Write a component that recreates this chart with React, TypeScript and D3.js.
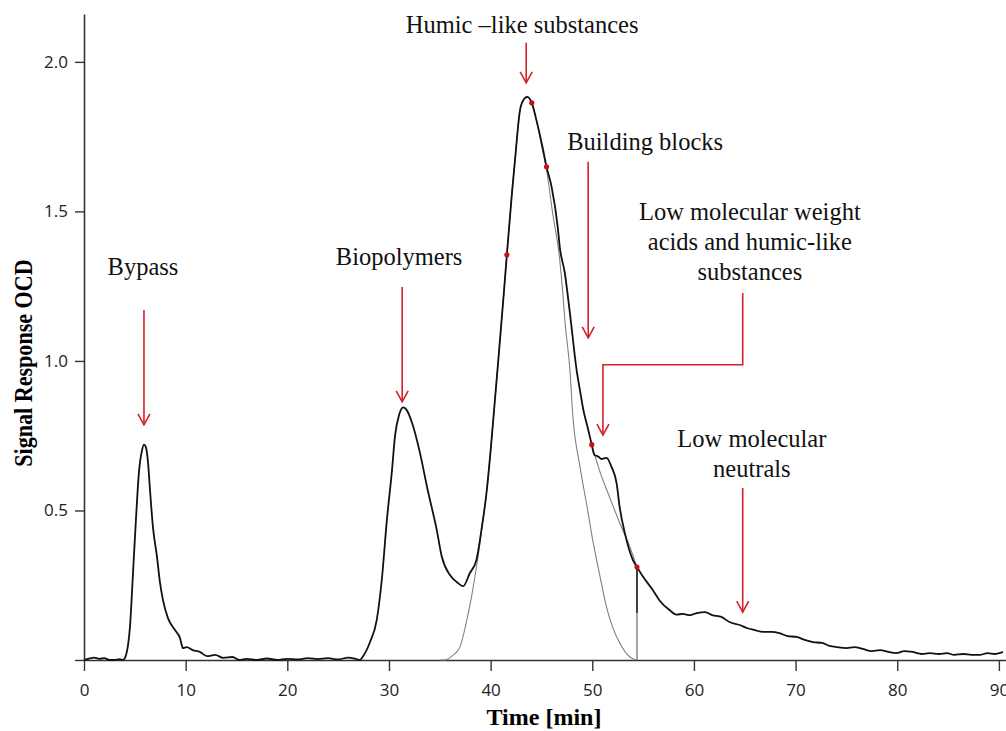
import React, { useEffect, useRef } from "react"
import * as d3 from "d3"

// Total OCD signal, [time (min), response]
const totalSignal: [number, number][] = [
	[0, 0], [0.5, 0.005], [1.0, 0.008], [1.5, 0.004], [2.0, 0.006], [2.5, 0], [3.0, 0], [3.5, 0.003],
	[3.83, 0], [4.03, 0.007], [4.52, 0.11], [4.82, 0.29], [5.11, 0.47], [5.41, 0.63], [5.7, 0.7],
	[5.9, 0.72], [6.1, 0.71], [6.3, 0.66], [6.49, 0.57], [6.78, 0.445], [7.18, 0.345], [7.47, 0.26],
	[7.77, 0.2], [8.26, 0.14], [8.95, 0.1], [9.44, 0.074], [9.73, 0.04], [10.1, 0.043], [10.7, 0.033],
	[11.4, 0.027], [12.1, 0.013], [12.9, 0.017], [13.7, 0.007], [14.6, 0.01], [15.3, 0], [16, 0.004],
	[17, 0], [18, 0.005], [19, 0], [20, 0.004], [21, 0.002], [22, 0.006], [23, 0.003], [24, 0.006],
	[25, 0.002], [26, 0.008], [26.8, 0.003], [27.14, 0], [27.4, 0.01], [28.1, 0.057], [28.8, 0.134],
	[29.3, 0.27], [29.8, 0.47], [30.3, 0.635], [30.6, 0.75], [31.0, 0.82], [31.4, 0.845], [31.7, 0.838],
	[32.3, 0.79], [33.0, 0.7], [33.8, 0.57], [34.7, 0.435], [35.2, 0.345], [36.0, 0.284], [36.7, 0.26],
	[37.3, 0.247], [37.95, 0.29], [38.6, 0.334], [39.1, 0.435], [39.6, 0.56], [40.0, 0.7],
	[40.4, 0.86], [40.8, 1.02], [41.3, 1.227], [41.6, 1.355], [42.1, 1.562], [42.4, 1.672],
	[42.9, 1.84], [43.3, 1.876], [43.6, 1.883], [44.05, 1.863], [44.5, 1.806], [45.1, 1.716],
	[45.5, 1.649], [46.0, 1.582], [46.6, 1.448], [46.8, 1.381], [47.3, 1.294], [47.8, 1.16],
	[48.5, 0.96], [48.8, 0.9], [49.1, 0.84], [49.6, 0.77], [49.95, 0.72], [50.2, 0.686], [50.6, 0.68],
	[50.9, 0.672], [51.4, 0.676], [51.9, 0.645], [52.4, 0.59], [52.7, 0.51], [53.2, 0.425],
	[54.0, 0.334], [54.4, 0.311], [55.0, 0.278], [55.95, 0.234], [56.6, 0.2], [57.6, 0.167],
	[58.3, 0.152], [58.9, 0.154], [59.6, 0.15], [60.3, 0.157], [61.1, 0.16], [61.8, 0.15],
	[62.7, 0.144], [63.5, 0.127], [64.5, 0.117], [65.2, 0.107], [65.98, 0.1], [66.8, 0.094],
	[67.65, 0.094], [68.4, 0.09], [69.2, 0.08], [70.1, 0.077], [70.9, 0.067], [71.7, 0.06],
	[72.6, 0.057], [73.35, 0.047], [74.1, 0.043], [75.0, 0.04], [75.8, 0.043], [76.6, 0.037],
	[77.5, 0.03], [78.3, 0.033], [79.15, 0.027], [79.9, 0.023], [80.7, 0.03], [81.5, 0.027],
	[82.4, 0.02], [83.2, 0.023], [84.1, 0.02], [84.9, 0.023], [85.6, 0.017], [86.5, 0.02],
	[87.3, 0.017], [88.1, 0.017], [88.9, 0.023], [89.6, 0.02], [90.4, 0.027],
]

// Fitted humic substances peak
const humicFit: [number, number][] = [
	[35.0, 0], [35.5, 0], [36.2, 0.013], [36.97, 0.043], [37.76, 0.15], [38.15, 0.217], [38.6, 0.31],
	[38.9, 0.378], [39.2, 0.46], [39.6, 0.56], [40.0, 0.7], [40.4, 0.86], [40.8, 1.02], [41.3, 1.227],
	[41.6, 1.355], [42.1, 1.562], [42.4, 1.672], [42.9, 1.84], [43.3, 1.876], [43.6, 1.883],
	[44.05, 1.863], [44.5, 1.806], [45.1, 1.706], [45.5, 1.64], [46.1, 1.495], [46.8, 1.338],
	[47.1, 1.227], [47.3, 1.137], [47.8, 0.97], [48.08, 0.82], [48.8, 0.645], [49.5, 0.51],
	[50.05, 0.4], [50.7, 0.29], [51.4, 0.177], [52.0, 0.11], [52.7, 0.057], [53.7, 0.01], [54.4, 0],
]

// Fitted low molecular weight acids peak (upper edge)
const lmwFit: [number, number][] = [
	[49.95, 0.72], [50.7, 0.635], [51.7, 0.545], [52.7, 0.458], [53.7, 0.378], [54.4, 0.311],
]

// Integration cut at the end of the LMW acids fraction
const cutTime = 54.4
const cutTop = 0.311
const cutBlackEnd = 0.157

const markers: [number, number][] = [
	[41.6, 1.355], [44.05, 1.863], [45.5, 1.649], [49.95, 0.72], [54.4, 0.311],
]

const xTicks = [0, 10, 20, 30, 40, 50, 60, 70, 80, 90]
const yTicks = [0, 0.5, 1.0, 1.5, 2.0]

// Labels: text lines, text anchor (time, signal), arrow path in (time, signal)
const labels = [
	{ lines: ["Bypass"], at: [5.8, 1.288], arrow: [[5.9, 1.17], [5.9, 0.786]] },
	{ lines: ["Biopolymers"], at: [31.0, 1.321], arrow: [[31.3, 1.247], [31.3, 0.863]] },
	{ lines: ["Humic \u2013like substances"], at: [43.1, 2.097], arrow: [[43.5, 2.064], [43.5, 1.93]] },
	{ lines: ["Building blocks"], at: [55.2, 1.706], arrow: [[49.6, 1.666], [49.6, 1.077]] },
	{
		lines: ["Low molecular weight", "acids and humic-like", "substances"],
		at: [65.5, 1.472],
		arrow: [[64.8, 1.227], [64.8, 0.987], [51.05, 0.987], [51.05, 0.752]],
	},
	{ lines: ["Low molecular", "neutrals"], at: [65.7, 0.712], arrow: [[64.8, 0.575], [64.8, 0.16]] },
]

const App = () => {
	const ref = useRef<SVGSVGElement>(null)

	useEffect(() => {
		const width = 1006
		const height = 731
		const red = "#d3222a"
		const serif = "'Liberation Serif', 'Times New Roman', serif"
		const sans = "'Open Sans', sans-serif"

		const x = d3.scaleLinear().domain([0, 90.7]).range([84, 1006])
		const y = d3.scaleLinear().domain([0, 2.16]).range([660, 14])

		const svg = d3
			.select(ref.current)
			.attr("width", width)
			.attr("height", height)
			.attr("viewBox", [0, 0, width, height].join(" "))

		svg.selectAll("*").remove()

		svg.append("rect").attr("width", width).attr("height", height).attr("fill", "#fff")

		// Axes
		const xAxis = d3
			.axisBottom(x)
			.tickValues(xTicks)
			.tickSize(11)
			.tickSizeOuter(0)
			.tickPadding(13)
			.tickFormat(d => String(d))

		svg
			.append("g")
			.attr("transform", `translate(0, ${y(0)})`)
			.call(xAxis)
			.call(g => g.select(".domain").attr("stroke", "#333").attr("stroke-width", 1.6))
			.call(g => g.selectAll(".tick line").attr("stroke", "#333").attr("stroke-width", 1.4))
			.call(g =>
				g.selectAll("text").attr("fill", "#222").style("font-family", sans).style("font-size", "17px"),
			)

		const yAxis = d3
			.axisLeft(y)
			.tickValues(yTicks)
			.tickSize(9)
			.tickSizeOuter(0)
			.tickPadding(7)
			.tickFormat(d => (d === 0 ? "" : d3.format(".1f")(d as number)))

		svg
			.append("g")
			.attr("transform", `translate(${x(0)}, 0)`)
			.call(yAxis)
			.call(g => g.select(".domain").attr("stroke", "#333").attr("stroke-width", 1.6))
			.call(g => g.selectAll(".tick line").attr("stroke", "#333").attr("stroke-width", 1.4))
			.call(g =>
				g.selectAll("text").attr("fill", "#222").style("font-family", sans).style("font-size", "17px"),
			)

		// Axis titles
		svg
			.append("text")
			.attr("x", 544)
			.attr("y", 725)
			.attr("text-anchor", "middle")
			.style("font-family", serif)
			.style("font-weight", "bold")
			.style("font-size", "24px")
			.attr("fill", "#000")
			.text("Time [min]")

		svg
			.append("text")
			.attr("transform", "translate(32, 363) rotate(-90) scale(0.85, 1)")
			.attr("text-anchor", "middle")
			.style("font-family", serif)
			.style("font-weight", "bold")
			.style("font-size", "26px")
			.attr("fill", "#000")
			.text("Signal Response OCD")

		const line = d3
			.line<[number, number]>()
			.x(d => x(d[0]))
			.y(d => y(d[1]))
			.curve(d3.curveMonotoneX)

		// Fitted fractions (thin grey)
		svg
			.append("path")
			.datum(humicFit)
			.attr("fill", "none")
			.attr("stroke", "#808080")
			.attr("stroke-width", 1.1)
			.attr("d", line)

		svg
			.append("path")
			.datum(lmwFit)
			.attr("fill", "none")
			.attr("stroke", "#808080")
			.attr("stroke-width", 1.1)
			.attr("d", line)

		svg
			.append("line")
			.attr("x1", x(cutTime))
			.attr("x2", x(cutTime))
			.attr("y1", y(cutBlackEnd))
			.attr("y2", y(0))
			.attr("stroke", "#808080")
			.attr("stroke-width", 1.4)

		svg
			.append("line")
			.attr("x1", x(cutTime))
			.attr("x2", x(cutTime))
			.attr("y1", y(cutTop))
			.attr("y2", y(cutBlackEnd))
			.attr("stroke", "#111")
			.attr("stroke-width", 1.6)

		// Total signal
		svg
			.append("path")
			.datum(totalSignal)
			.attr("fill", "none")
			.attr("stroke", "#111")
			.attr("stroke-width", 1.8)
			.attr("stroke-linejoin", "round")
			.attr("d", line)

		// Integration markers
		svg
			.selectAll("circle.marker")
			.data(markers)
			.enter()
			.append("circle")
			.attr("class", "marker")
			.attr("cx", d => x(d[0]))
			.attr("cy", d => y(d[1]))
			.attr("r", 2.6)
			.attr("fill", "#c8101a")

		// Labels with arrows
		const arrowLine = d3
			.line<number[]>()
			.x(d => x(d[0]))
			.y(d => y(d[1]))

		labels.forEach(lab => {
			const t = svg
				.append("text")
				.attr("text-anchor", "middle")
				.style("font-family", serif)
				.style("font-size", "24.5px")
				.attr("fill", "#111")
			lab.lines.forEach((s, i) => {
				t.append("tspan")
					.attr("x", x(lab.at[0]))
					.attr("y", y(lab.at[1]) + i * 30)
					.text(s)
			})

			svg
				.append("path")
				.attr("d", arrowLine(lab.arrow))
				.attr("fill", "none")
				.attr("stroke", red)
				.attr("stroke-width", 1.6)

			const tip = lab.arrow[lab.arrow.length - 1]
			const tx = x(tip[0])
			const ty = y(tip[1])
			svg
				.append("path")
				.attr("d", `M${tx - 6},${ty - 11}L${tx},${ty}L${tx + 6},${ty - 11}`)
				.attr("fill", "none")
				.attr("stroke", red)
				.attr("stroke-width", 1.6)
		})
	}, [])

	return <svg ref={ref} style={{ position: "absolute", left: 0, top: 0, display: "block" }}></svg>
}

export default App
